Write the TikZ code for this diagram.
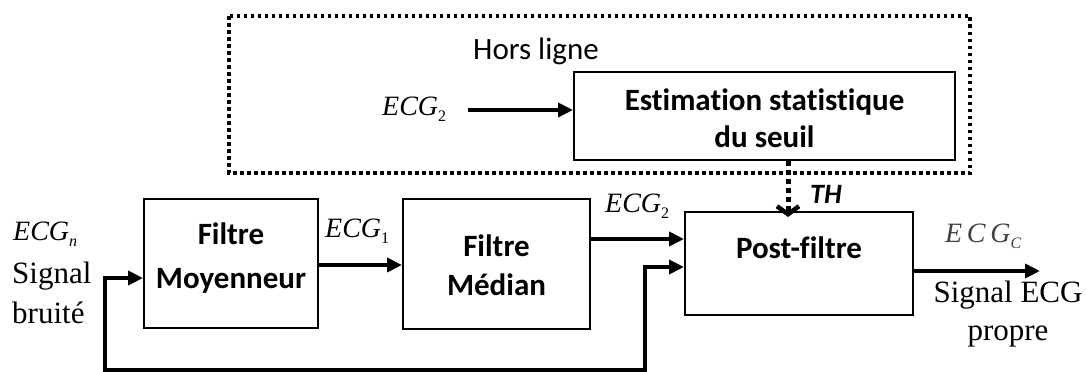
\documentclass[tikz,border=0pt]{standalone}
\usepackage{fontspec}
\setmainfont{Liberation Serif}
\newfontfamily\calib[RawFeature={-liga;-dlig;-clig}]{Carlito}
\usetikzlibrary{arrows.meta,calc}
\newcommand\ecglab[1]{{\fontsize{28}{30}\selectfont\itshape ECG}\raisebox{-6pt}{\fontsize{16}{16}\selectfont #1}}
\tikzset{
  box/.style={draw, line width=2pt, inner sep=0pt},
  bt/.style={font=\calib\bfseries\fontsize{31}{37}\selectfont, inner sep=0pt, anchor=base},
  st/.style={font=\fontsize{31}{37}\selectfont, inner sep=0pt, anchor=base west},
  et/.style={inner sep=0pt, anchor=base west},
  arr/.style={line width=4pt, -{Triangle[length=15pt,width=14pt]}},
  dotarr/.style={line width=5pt, dash pattern=on 5pt off 4pt, -{Straight Barb[length=8pt,width=22pt,line width=4.5pt]}},
  dotframe/.style={line width=3.5pt, dash pattern=on 3.5pt off 3.5pt}
}
\begin{document}
\begin{tikzpicture}[x=1pt,y=-1pt]
\useasboundingbox (0,0) rectangle (1087,372);
% offline frame
\draw[dotframe] (229,16) rectangle (970,173);
\node[font=\calib\fontsize{31}{37}\selectfont, inner sep=0pt, anchor=base west] (hors) at (473,59) {Hors ligne};
% boxes
\node[box, minimum width=381pt, minimum height=88pt] (est) at (764.5,116) {};
\node[bt] (est1) at (764.5,110) {Estimation statistique};
\node[bt] (est2) at (764.5,147) {du seuil};
\node[box, minimum width=174pt, minimum height=129pt] (moy) at (231,263.5) {};
\node[bt] (moy1) at (231,244) {Filtre};
\node[bt] (moy2) at (231,288) {Moyenneur};
\node[box, minimum width=187pt, minimum height=130pt] (med) at (496.5,264) {};
\node[bt] (med1) at (496.5,256) {Filtre};
\node[bt] (med2) at (496.5,295) {Médian};
\node[box, minimum width=228pt, minimum height=103pt] (post) at (799,263.5) {};
\node[bt] (post1) at (799,258) {Post-filtre};
% labels
\node[et] (ecgtop) at (382,115) {\ecglab{2}};
\node[et] (ecgn) at (13,240) {\ecglab{\itshape n}};
\node[st] (sig1) at (12,283) {Signal};
\node[st] (sig2) at (12,323) {bruité};
\node[et] (ecg1) at (325,237) {\ecglab{1}};
\node[et] (ecg2) at (605,212) {\ecglab{2}};
\node[et, text=black!75] (ecgc) at (945,242) {{\fontsize{28}{30}\selectfont\itshape E\,C\,G}\raisebox{-6pt}{\fontsize{16}{16}\selectfont\itshape C}};
\node[font=\fontsize{31}{37}\selectfont, inner sep=0pt, anchor=base] (out1) at (1008,302) {Signal ECG};
\node[font=\fontsize{31}{37}\selectfont, inner sep=0pt, anchor=base] (out2) at (1008,340) {propre};
\node[font=\calib\bfseries\itshape\fontsize{28}{32}\selectfont, inner sep=0pt, anchor=base west] (th) at (810,203) {TH};
% coordinates
\coordinate (a1) at (468,110);
\coordinate (thx) at (788,0);
\coordinate (c1) at (105,370);
\coordinate (c2) at (645,370);
\coordinate (outend) at (1040,271);
% connectors
\draw[arr] (a1) -- (est.west |- a1);
\draw[dotarr] (est.south -| thx) -- ($(post.north -| thx)+(0,6)$);
\draw[arr] (moy.east |- 0,265) -- (med.west |- 0,265);
\draw[arr] ($(med.east)+(0,-25)$) coordinate (m2) -- (post.west |- m2);
\draw[arr] (post.east |- outend) -- (outend);
\draw[line width=4pt, {Triangle[length=15pt,width=14pt]}-{Triangle[length=15pt,width=14pt]}]
  ($(moy.west)+(0,14.5)$) -| (c1) -- (c2) |- ($(post.west)+(0,3.5)$);
\end{tikzpicture}
\end{document}
